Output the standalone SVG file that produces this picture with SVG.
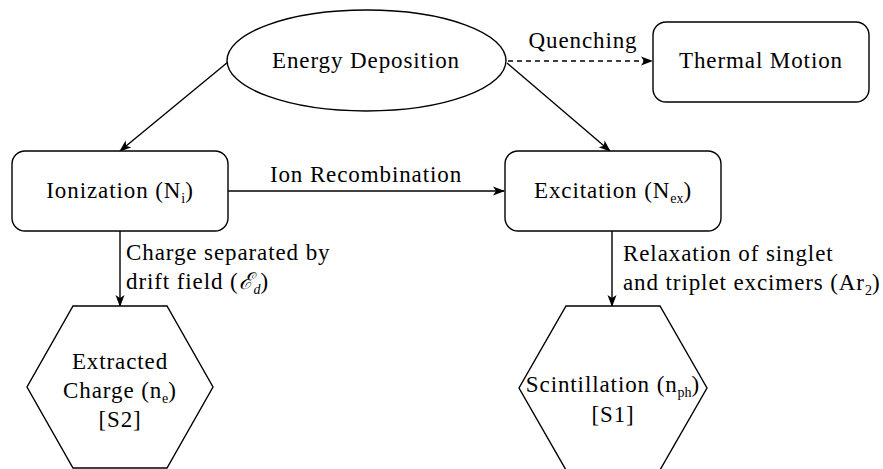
<svg xmlns="http://www.w3.org/2000/svg" width="883" height="469" viewBox="0 0 883 469">
<defs>
<marker id="ah" viewBox="0 0 12 10" markerWidth="12" markerHeight="10" refX="11" refY="5" orient="auto" markerUnits="userSpaceOnUse">
<path d="M0,0.5 L12,5 L0,9.5 L3,5 Z" fill="#000"/>
</marker>
<style>
.shape{fill:#fff;stroke:#000;stroke-width:1.4}
.conn{fill:none;stroke:#000;stroke-width:1.4;marker-end:url(#ah)}
.dash{stroke-dasharray:5 4}
text{font-family:"Liberation Serif","DejaVu Serif",serif;font-size:23px;fill:#000;letter-spacing:0.9px}
.c{text-anchor:middle}
.sub{font-size:14px;letter-spacing:0}
</style>
</defs>
<rect width="883" height="469" fill="#fff"/>
<g id="connectors">
<line class="conn" x1="228" y1="62" x2="120" y2="151"/>
<line class="conn" x1="507" y1="63" x2="610" y2="151"/>
<line class="conn dash" x1="508" y1="61" x2="652" y2="61"/>
<line class="conn" x1="228" y1="191" x2="504" y2="191"/>
<line class="conn" x1="120" y1="231" x2="120" y2="306"/>
<line class="conn" x1="612" y1="231" x2="612" y2="306"/>
<text x="583" y="48" class="c">Quenching</text>
<text x="366" y="182" class="c">Ion Recombination</text>
<text x="126" y="260">Charge separated by</text>
<text x="126" y="289">drift field (<tspan font-style="italic">ℰ</tspan><tspan class="sub" font-style="italic" dy="5">d</tspan><tspan dy="-5">)</tspan></text>
<text x="623" y="261">Relaxation of singlet</text>
<text x="623" y="290">and triplet excimers (Ar<tspan class="sub" dy="5">2</tspan><tspan dy="-5">)</tspan></text>
</g>
<g id="energy-deposition">
<ellipse class="shape" cx="366.5" cy="60.5" rx="139.5" ry="50.5"/>
<text x="366" y="68" class="c">Energy Deposition</text>
</g>
<g id="thermal-motion">
<rect class="shape" x="653" y="22" width="216" height="80" rx="13"/>
<text x="761" y="68" class="c">Thermal Motion</text>
</g>
<g id="ionization">
<rect class="shape" x="12" y="151" width="216" height="80" rx="13"/>
<text x="120" y="198" class="c">Ionization (N<tspan class="sub" dy="5">i</tspan><tspan dy="-5">)</tspan></text>
</g>
<g id="excitation">
<rect class="shape" x="505" y="151" width="216" height="80" rx="13"/>
<text x="613" y="198" class="c">Excitation (N<tspan class="sub" dy="5">ex</tspan><tspan dy="-5">)</tspan></text>
</g>
<g id="extracted-charge">
<polygon class="shape" points="73,306 167,306 213,387 167,468 73,468 27,387"/>
<text x="120" y="369" class="c">Extracted</text>
<text x="120" y="398" class="c">Charge (n<tspan class="sub" dy="5">e</tspan><tspan dy="-5">)</tspan></text>
<text x="120" y="427" class="c">[S2]</text>
</g>
<g id="scintillation">
<polygon class="shape" points="566,306 660,306 707,388 660,470 566,470 519,388"/>
<text x="613" y="392" class="c">Scintillation (n<tspan class="sub" dy="5">ph</tspan><tspan dy="-5">)</tspan></text>
<text x="613" y="422" class="c">[S1]</text>
</g>
</svg>
